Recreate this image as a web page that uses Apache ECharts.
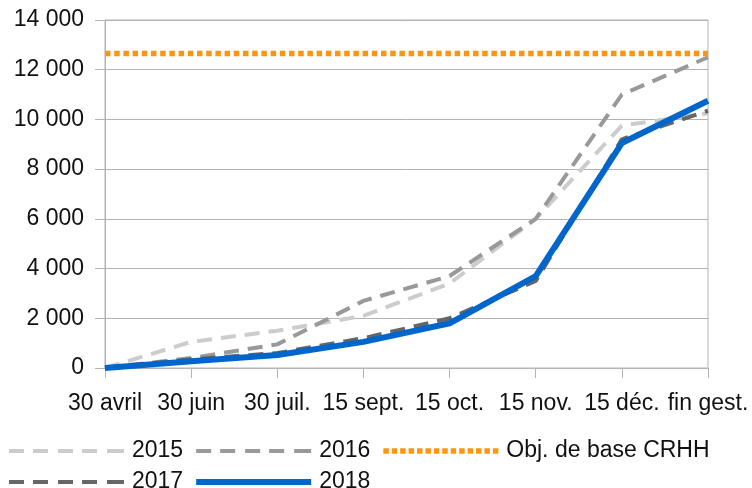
<!DOCTYPE html>
<html>
<head>
<meta charset="utf-8">
<script src="https://cdn.jsdelivr.net/npm/echarts@6/dist/echarts.min.js"></script>
<style>
  html, body { margin: 0; padding: 0; background: #fff; }
  #chart { width: 752px; height: 488px; }
</style>
</head>
<body>
<div id="chart"></div>
<script>
var categories = ['30 avril', '30 juin', '30 juil.', '15 sept.', '15 oct.', '15 nov.', '15 déc.', 'fin gest.'];
var serie2015 = [0, 1050, 1500, 2100, 3400, 6000, 9750, 10250];
var serie2016 = [0, 400, 950, 2700, 3700, 6000, 11000, 12500];
var serie2017 = [0, 350, 600, 1200, 2000, 3500, 9200, 10350];
var serie2018 = [0, 270, 520, 1050, 1800, 3700, 9050, 10750];
var objectif = [12650, 12650, 12650, 12650, 12650, 12650, 12650, 12650];
var legendRow1 = ['2015', '2016', 'Obj. de base CRHH'];
var legendRow2 = ['2017', '2018'];

var font = 'Liberation Sans, Arial, sans-serif';
var gridColor = '#b3b3b3';

var fmt = function(v) {
  return String(v).replace(/\B(?=(\d{3})+(?!\d))/g, ' ');
};

// legend icons drawn as paths so they look like the chart's dashes
var dashIcon = 'path://M0,0h15v4h-15z M24,0h15v4h-15z M49,0h15v4h-15z M73,0h15v4h-15z M98,0h17v4h-17z';
var solidIcon = 'path://M0,0h115v6h-115z';
var dotIcon = (function() {
  var p = 'path://';
  for (var i = 0; i < 14; i++) {
    p += 'M' + (i * 8.5) + ',0h5.5v5.5h-5.5z ';
  }
  return p;
})();
var icons = {
  '2015': dashIcon,
  '2016': dashIcon,
  '2017': dashIcon,
  '2018': solidIcon,
  'Obj. de base CRHH': dotIcon
};

var makeLegend = function(names, top) {
  return {
    data: names.map(function(n) { return { name: n, icon: icons[n] }; }),
    left: 4, top: top,
    itemWidth: 115, itemHeight: 6, itemGap: 13,
    textStyle: { fontFamily: font, fontSize: 23, color: '#111', lineHeight: 26, padding: [0, 0, 0, 3] }
  };
};

var makeSerie = function(name, values, color, width, dash) {
  return {
    name: name,
    type: 'line',
    data: values,
    symbol: 'none',
    showSymbol: false,
    silent: true,
    animation: false,
    lineStyle: { color: color, width: width, type: dash, cap: 'butt' },
    itemStyle: { color: color }
  };
};

var chart = echarts.init(document.getElementById('chart'));
var option = {
  animation: false,
  grid: {
    left: 105, right: 44, top: 20, bottom: 120,
    show: true, borderColor: gridColor, borderWidth: 1
  },
  legend: [makeLegend(legendRow1, 433), makeLegend(legendRow2, 464)],
  xAxis: {
    type: 'category',
    data: categories,
    boundaryGap: false,
    axisLine: { lineStyle: { color: gridColor } },
    axisTick: { show: true, length: 10, lineStyle: { color: gridColor } },
    axisLabel: { interval: 0, margin: 24, fontFamily: font, fontSize: 23, color: '#111' },
    splitLine: { show: false }
  },
  yAxis: {
    type: 'value',
    min: 0, max: 14000, interval: 2000,
    axisLine: { show: true, lineStyle: { color: gridColor } },
    axisTick: { show: true, length: 10, lineStyle: { color: gridColor } },
    axisLabel: { margin: 21, fontFamily: font, fontSize: 23, color: '#111', formatter: fmt },
    splitLine: { lineStyle: { color: gridColor } }
  },
  series: [
    makeSerie('2015', serie2015, '#cccccc', 4, [15, 9]),
    makeSerie('2016', serie2016, '#999999', 4, [15, 9]),
    makeSerie('2017', serie2017, '#666666', 4, [15, 9]),
    makeSerie('2018', serie2018, '#0066cc', 6, 'solid'),
    makeSerie('Obj. de base CRHH', objectif, '#ff950e', 5.5, [5.5, 3.7])
  ]
};
chart.setOption(option);
</script>
</body>
</html>
